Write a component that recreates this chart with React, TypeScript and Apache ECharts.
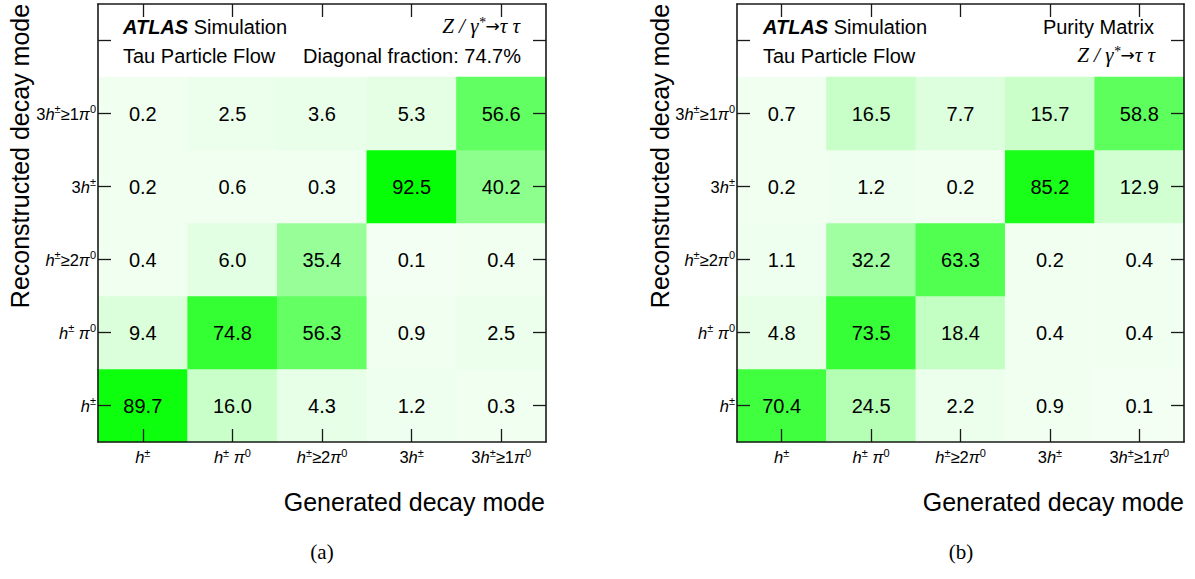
import React, { useEffect, useRef } from "react";
import * as echarts from "echarts";

// Decay-mode categories (generated on x, reconstructed on y)
const decayModes = ["h±", "h± π0", "h± ≥2π0", "3h±", "3h± ≥1π0"];
// y axis carries one extra empty row on top for the header text
const yRows = [...decayModes, ""];

// Rows listed bottom → top (reconstructed h±, h±π0, h±≥2π0, 3h±, 3h±≥1π0)
const efficiencyRows = [
  [89.7, 16.0, 4.3, 1.2, 0.3],
  [9.4, 74.8, 56.3, 0.9, 2.5],
  [0.4, 6.0, 35.4, 0.1, 0.4],
  [0.2, 0.6, 0.3, 92.5, 40.2],
  [0.2, 2.5, 3.6, 5.3, 56.6],
];
const purityRows = [
  [70.4, 24.5, 2.2, 0.9, 0.1],
  [4.8, 73.5, 18.4, 0.4, 0.4],
  [1.1, 32.2, 63.3, 0.2, 0.4],
  [0.2, 1.2, 0.2, 85.2, 12.9],
  [0.7, 16.5, 7.7, 15.7, 58.8],
];
const diagonalFraction = 74.7;

const richLabels: Record<string, string> = {
  "h±": "{i|h}{s|±}",
  "h± π0": "{i|h}{s|±}{i| π}{s|0}",
  "h± ≥2π0": "{i|h}{s|±}{n|≥2}{i|π}{s|0}",
  "3h±": "{n|3}{i|h}{s|±}",
  "3h± ≥1π0": "{n|3}{i|h}{s|±}{n|≥1}{i|π}{s|0}",
  "": "",
};

const SANS = "Liberation Sans";
const SERIF = "Liberation Serif";
const FRAME = "#1a1a1a";

const labelRich = {
  i: { fontStyle: "italic", fontSize: 16.5, fontFamily: SANS, color: "#000", lineHeight: 20 },
  n: { fontSize: 16.5, fontFamily: SANS, color: "#000", lineHeight: 20 },
  s: { fontSize: 11, fontFamily: SANS, color: "#000", lineHeight: 11, verticalAlign: "top" },
};

function toCells(rows: number[][]) {
  const out: number[][] = [];
  rows.forEach((row, y) => row.forEach((v, x) => out.push([x, y, v])));
  return out;
}

function axesFor(grid: number) {
  const tick = { show: true, inside: true, length: 13, alignWithLabel: true, interval: 0, lineStyle: { color: FRAME, width: 1.3 } };
  const line = { show: true, lineStyle: { color: FRAME, width: 1.6 } };
  const xAxis = [
    {
      type: "category", gridIndex: grid, data: decayModes, position: "bottom", z: 10,
      axisLine: line, axisTick: tick, splitLine: { show: false },
      axisLabel: { interval: 0, margin: 5, formatter: (v: string) => richLabels[v], rich: labelRich },
    },
    {
      type: "category", gridIndex: grid, data: decayModes, position: "top", z: 10,
      axisLine: line, axisTick: tick, axisLabel: { show: false }, splitLine: { show: false },
    },
  ];
  const yAxis = [
    {
      type: "category", gridIndex: grid, data: yRows, position: "left", z: 10,
      axisLine: line, axisTick: tick, splitLine: { show: false },
      axisLabel: { interval: 0, margin: 2, formatter: (v: string) => richLabels[v], rich: labelRich },
    },
    {
      type: "category", gridIndex: grid, data: yRows, position: "right", z: 10,
      axisLine: line, axisTick: tick, axisLabel: { show: false }, splitLine: { show: false },
    },
  ];
  return { xAxis, yAxis };
}

function headerText(x: number, y: number, text: string, align: string, extra: any = {}) {
  return {
    type: "text", x, y, z: 20,
    style: { text, align, verticalAlign: "middle", fontSize: 20, fontFamily: SANS, fill: "#000", ...extra },
  };
}

const zRich = {
  z: { fontFamily: SERIF, fontStyle: "italic", fontSize: 21, fill: "#000", lineHeight: 22 },
  s: { fontFamily: SERIF, fontStyle: "italic", fontSize: 14, verticalAlign: "top", lineHeight: 12 },
  a: { fontFamily: "DejaVu Sans", fontSize: 17, fill: "#000", lineHeight: 22 },
};
const zText = "{z|Z / γ}{s|*}{a|→}{z|τ τ}";
const atlasRich = { b: { fontWeight: "bold", fontStyle: "italic", fontSize: 20, fontFamily: SANS } };

export default function App() {
  const ref = useRef<HTMLDivElement>(null);

  useEffect(() => {
    if (!ref.current) return;
    const chart = echarts.init(ref.current, null, { renderer: "svg" });
    const a0 = axesFor(0);
    const a1 = axesFor(1);
    const cellLabel = {
      show: true, color: "#000", fontSize: 20, fontFamily: SANS,
      formatter: (p: any) => Number(p.value[2]).toFixed(1),
    };
    const palette = { min: 0, max: 95, show: false, inRange: { color: ["#f2fff2", "#00ff00"] } };

    chart.setOption({
      animation: false,
      backgroundColor: "#fff",
      grid: [
        { left: 98, top: 4, width: 448, height: 438 },
        { left: 737, top: 4, width: 447, height: 438 },
      ],
      xAxis: [...a0.xAxis, ...a1.xAxis],
      yAxis: [...a0.yAxis, ...a1.yAxis],
      visualMap: [
        { ...palette, seriesIndex: 0, dimension: 2 },
        { ...palette, seriesIndex: 1, dimension: 2 },
      ],
      series: [
        {
          type: "heatmap", xAxisIndex: 0, yAxisIndex: 0, data: toCells(efficiencyRows),
          label: cellLabel, emphasis: { disabled: true }, itemStyle: { borderWidth: 0 },
        },
        {
          type: "heatmap", xAxisIndex: 2, yAxisIndex: 2, data: toCells(purityRows),
          label: cellLabel, emphasis: { disabled: true }, itemStyle: { borderWidth: 0 },
        },
      ],
      graphic: [
        // left panel header
        headerText(123, 27, "{b|ATLAS} Simulation", "left", { rich: atlasRich }),
        headerText(123, 56, "Tau Particle Flow", "left"),
        headerText(520, 26, zText, "right", { rich: zRich }),
        headerText(521, 56, `Diagonal fraction: ${diagonalFraction.toFixed(1)}%`, "right"),
        // right panel header
        headerText(763, 27, "{b|ATLAS} Simulation", "left", { rich: atlasRich }),
        headerText(763, 56, "Tau Particle Flow", "left"),
        headerText(1154, 27, "Purity Matrix", "right"),
        headerText(1155, 55, zText, "right", { rich: zRich }),
        // axis titles
        {
          type: "text", x: 20, y: 156, rotation: Math.PI / 2,
          style: { text: "Reconstructed decay mode", align: "center", verticalAlign: "middle", fontSize: 25, fontFamily: SANS, fill: "#000" },
        },
        {
          type: "text", x: 660, y: 156, rotation: Math.PI / 2,
          style: { text: "Reconstructed decay mode", align: "center", verticalAlign: "middle", fontSize: 25, fontFamily: SANS, fill: "#000" },
        },
        headerText(545, 502, "Generated decay mode", "right", { fontSize: 25 }),
        headerText(1184, 502, "Generated decay mode", "right", { fontSize: 25 }),
        // panel captions
        headerText(322, 552, "(a)", "center", { fontFamily: SERIF, fontSize: 21 }),
        headerText(961, 552, "(b)", "center", { fontFamily: SERIF, fontSize: 21 }),
      ],
    });
    return () => chart.dispose();
  }, []);

  return (
    <div
      ref={ref}
      style={{ position: "absolute", left: 0, top: 0, width: 1195, height: 579 }}
    />
  );
}
